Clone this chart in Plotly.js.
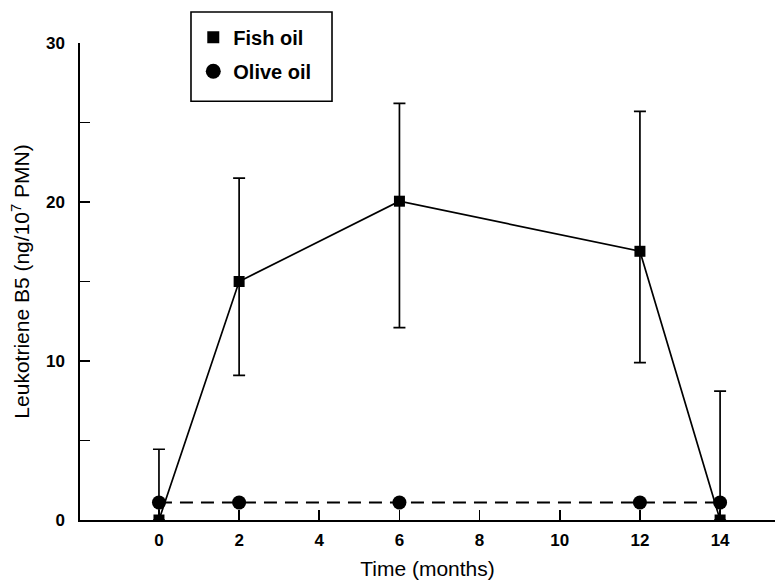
<!DOCTYPE html>
<html>
<head>
<meta charset="utf-8">
<script src="https://cdn.plot.ly/plotly-3.0.1.min.js"></script>
<style>html,body{margin:0;padding:0;background:#fff;}#chart{width:775px;height:581px;}</style>
</head>
<body>
<div id="chart"></div>
<script>
const months = [0, 2, 6, 12, 14];
const fishOil = [0, 15.0, 20.05, 16.9, 0];
const fishErrPlus = [4.45, 6.5, 6.15, 8.8, 8.1];
const fishErrMinus = [0, 5.9, 7.95, 7.0, 0];
const oliveOil = [1.1, 1.1, 1.1, 1.1, 1.1];
const xTickVals = [0, 2, 4, 6, 8, 10, 12, 14];
const xTickText = ['0', '2', '4', '6', '8', '10', '12', '14'];
const yTickVals = [0, 10, 20, 30];
const yTickText = ['0', '10', '20', '30'];
const seriesNames = ['Fish oil', 'Olive oil'];

const traces = [
  {
    x: months, y: fishOil, mode: 'lines+markers', showlegend: false,
    line: {color: '#000', width: 1.7},
    marker: {symbol: 'square', size: 11, color: '#000'},
    error_y: {type: 'data', symmetric: false, array: fishErrPlus, arrayminus: fishErrMinus,
              color: '#000', thickness: 1.7, width: 6}
  },
  {
    x: months, y: oliveOil, mode: 'lines+markers', showlegend: false,
    line: {color: '#000', width: 1.8, dash: '13px,8px'},
    marker: {symbol: 'circle', size: 14, color: '#000'}
  },
  {x: [null], y: [null], mode: 'markers', name: seriesNames[0], legendgroup: 'a',
   marker: {symbol: 'square', size: 12, color: '#000'}},
  {x: [null], y: [null], mode: 'markers', name: seriesNames[1], legendgroup: 'b',
   marker: {symbol: 'circle', size: 15, color: '#000'}}
];

const layout = {
  width: 775, height: 581,
  margin: {l: 80, r: 0, t: 43, b: 61, pad: 0},
  paper_bgcolor: '#fff', plot_bgcolor: '#fff',
  font: {family: 'Liberation Sans, Arial, sans-serif', color: '#000'},
  showlegend: true,
  legend: {
    x: 0.163, y: 1.053, xanchor: 'left', yanchor: 'top',
    borderwidth: 0, bgcolor: 'rgba(0,0,0,0)',
    font: {size: 20, family: 'Liberation Sans, Arial, sans-serif', weight: 'bold'},
    itemwidth: 30, tracegroupgap: 5
  },
  shapes: [{
    type: 'rect', xref: 'paper', yref: 'paper',
    x0: 0.1597, x1: 0.3626, y0: 0.878, y1: 1.065,
    line: {color: '#000', width: 1.6}, fillcolor: 'rgba(0,0,0,0)', layer: 'above'
  }],
  xaxis: {
    range: [-1.97, 15.37], showgrid: false, zeroline: false,
    showline: true, linecolor: '#000', linewidth: 1.7,
    ticks: 'inside', ticklen: 10, tickwidth: 1.7, tickcolor: '#000',
    tickvals: xTickVals, ticktext: xTickText, ticklabelstandoff: 4,
    tickfont: {size: 17, weight: 'bold'},
    title: {text: 'Time (months)', font: {size: 21}, standoff: 12}
  },
  yaxis: {
    range: [0, 30], showgrid: false, zeroline: false,
    showline: true, linecolor: '#000', linewidth: 1.7,
    ticks: 'inside', ticklen: 10, tickwidth: 1.7, tickcolor: '#000',
    tickvals: yTickVals, ticktext: yTickText, ticklabelstandoff: 10,
    tickfont: {size: 17, weight: 'bold'},
    minor: {dtick: 5, ticks: 'inside', ticklen: 10, tickwidth: 1.7, tickcolor: '#000', showgrid: false},
    title: {text: 'Leukotriene B5 (ng/10<sup>7</sup> PMN)', font: {size: 21}, standoff: 10}
  }
};

Plotly.newPlot('chart', traces, layout, {displayModeBar: false, staticPlot: true});
</script>
</body>
</html>
